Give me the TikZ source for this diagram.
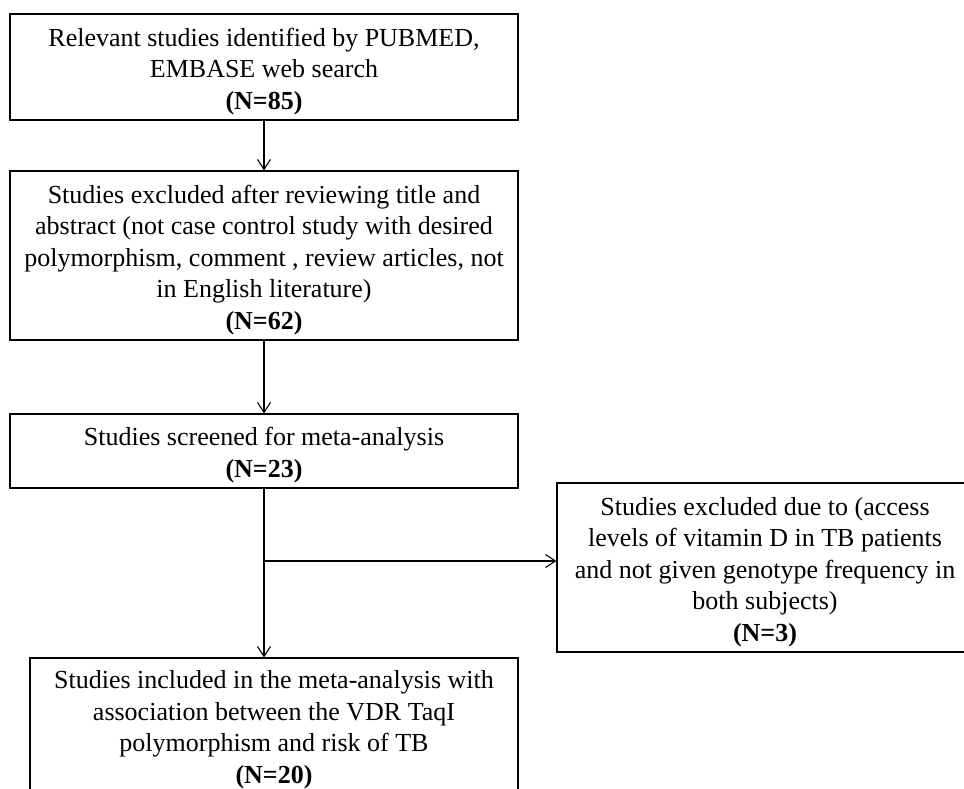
\documentclass[tikz,border=0pt]{standalone}
\usepackage{fontspec}
\setmainfont{Liberation Serif}
\usetikzlibrary{arrows.meta}
\newcommand{\hautligne}{\rule{0pt}{27pt}}

\begin{document}
\begin{tikzpicture}[x=1pt,y=-1pt,
	boite/.style={draw, line width=1.1pt, align=center, inner sep=0pt, font=\fontsize{26}{31.5}\selectfont},
	fleche/.style={-{Straight Barb[length=10pt,width=13pt]}, line width=1.1pt}]
	% Cadre de la figure
	\clip (0,0) rectangle (964,788);
	
	% Boites principales
	\node[boite, minimum width=508pt, minimum height=106pt] (recherche) at (264,67)
		{\hautligne Relevant studies identified by PUBMED,\\ EMBASE web search\\ \textbf{(N=85)}};
	\node[boite, minimum width=508pt, minimum height=169pt] (exclus) at (264,255.5)
		{\hautligne Studies excluded after reviewing title and\\ abstract (not case control study with desired\\ polymorphism, comment , review articles, not\\ in English literature)\\ \textbf{(N=62)}};
	\node[boite, minimum width=508pt, minimum height=74pt] (tries) at (264,451)
		{\hautligne Studies screened for meta-analysis\\ \textbf{(N=23)}};
	\node[boite, minimum width=488pt, minimum height=143pt] (inclus) at (274,729.5)
		{Studies included in the meta-analysis with\\ association between the VDR TaqI\\ polymorphism and risk of TB\\ \textbf{(N=20)}};
	
	% Boite laterale
	\node[boite, minimum width=416pt, minimum height=169pt] (rejetes) at (765,567.5)
		{\hautligne Studies excluded due to (access\\ levels of vitamin D in TB patients\\ and not given genotype frequency in\\ both subjects)\\ \textbf{(N=3)}};
	
	% Fleches
	\draw[fleche] (recherche) -- (exclus);
	\draw[fleche] (exclus) -- (tries);
	\draw[fleche] (tries.south) -- (tries.south |- inclus.north);
	\coordinate (branche) at (264,561);
	\draw[fleche] (branche) -- (branche -| rejetes.west);
\end{tikzpicture}
\end{document}
